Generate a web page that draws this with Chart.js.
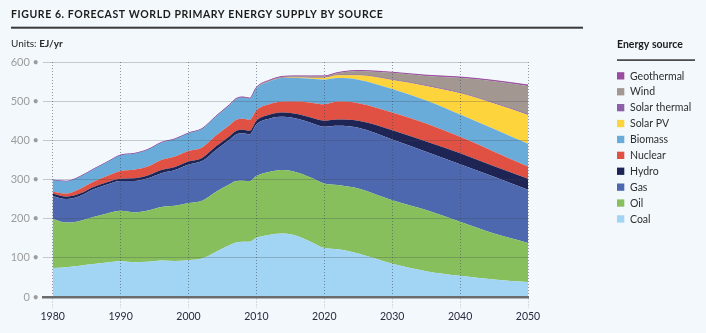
<!DOCTYPE html>
<html>
<head>
<meta charset="utf-8">
<script src="https://cdn.jsdelivr.net/npm/chart.js@4.4.1/dist/chart.umd.min.js"></script>
<style>
  html, body { margin: 0; padding: 0; background: #f2f8fc; }
  #wrap { position: relative; width: 706px; height: 333px; }
</style>
</head>
<body>
<div id="wrap"><canvas id="c" width="706" height="333"></canvas></div>
<script>
const years = [1980,1982,1984,1986,1988,1990,1992,1994,1996,1998,2000,2002,2004,2006,2007,2008,2009,2010,2012,2014,2016,2018,2020,2022,2025,2030,2035,2040,2045,2050];
const coal = [74,76,80,84,88,91,89,90,93,92,94,98,115,132,139,141,141,151,159,162,156,141,125,122,111,85,66,54,45,38];
const oil = [125,114,114,120,125,129,127,131,137,141,146,148,153,155,157,156,155,158,161,162,162,164,165,164,166,162,156,138,117,100];
const gas = [59,60,64,71,74,76,80,82,86,91,98,101,107,114,119,121,119,132,136,136,137,140,145,151,155,155,149,147,145,136];
const hydro = [6,6,6,6,6,6,7,7,8,8,8,8,9,9,9,9,9,9,10,11,12,13,15,16,18,24,26,28,27,28];
const nuclear = [5,8,12,13,16,20,22,23,26,27,27,27,28,28,28,28,28,27,27,28,32,38,42,46,45,45,46,42,37,31];
const biomass = [29,31,31,32,35,40,41,43,44,44,45,47,48,51,53,54,54,56,58,60,60,61,63,60,60,60,59,57,58,58];
const solarPV = [0,0,0,0,0,0,0,0,0,0,0,0,0,0,0,0,0,0.1,0.3,0.7,1.5,3,5,7,11,23,37,54,65,74];
const solarThermal = [0.1,0.1,0.1,0.1,0.1,0.1,0.1,0.1,0.1,0.1,0.2,0.2,0.3,0.3,0.3,0.4,0.4,0.5,0.6,0.7,0.8,0.9,1,1,1.1,1.3,1.5,1.6,1.7,1.8];
const wind = [0,0,0,0,0,0,0,0,0,0.1,0.1,0.2,0.3,0.5,0.6,0.8,0.9,1.1,1.5,2.2,2.3,2.5,2.5,5,10,17,24,38,55,72];
const geothermal = [0.4,0.4,0.4,0.4,0.4,0.4,0.5,0.5,0.5,0.5,0.5,0.6,0.6,0.6,0.6,0.6,0.6,0.6,0.7,0.8,0.9,1,1,1.1,1.2,1.5,1.8,2,2.2,2.4];
const xTicks = [1980,1990,2000,2010,2020,2030,2040,2050];
const yTicks = [0,100,200,300,400,500,600];

const seriesNames = ['Coal','Oil','Gas','Hydro','Nuclear','Biomass','Solar PV','Solar thermal','Wind','Geothermal'];
const seriesData = [coal,oil,gas,hydro,nuclear,biomass,solarPV,solarThermal,wind,geothermal];
const seriesColors = ['#a2d4f3','#88bf5d','#4d68ae','#1e2555','#e05144','#6aacd9','#fdd43c','#8c5fa8','#a39891','#9a4b9f'];

const datasets = seriesNames.map((name, i) => ({
  label: name,
  data: years.map((yr, j) => ({x: yr, y: seriesData[i][j]})),
  backgroundColor: seriesColors[i],
  borderColor: name === 'Geothermal' ? '#9a4b9f' : (name === 'Solar thermal' ? 'rgba(140,95,168,0.7)' : seriesColors[i]),
  borderWidth: name === 'Geothermal' ? 1 : (name === 'Solar thermal' ? 0.6 : 0),
  fill: i === 0 ? 'origin' : '-1',
  pointRadius: 0,
  cubicInterpolationMode: 'monotone',
  order: 0
}));

const FONT = 'Lato, "Open Sans", sans-serif';

const decor = {
  id: 'decor',
  beforeDraw(chart) {
    const ctx = chart.ctx;
    ctx.save();
    ctx.fillStyle = '#f2f8fc';
    ctx.fillRect(0, 0, chart.width, chart.height);
    ctx.restore();
  },
  afterDraw(chart) {
    const ctx = chart.ctx;
    ctx.save();
    ctx.fillStyle = '#1c1c1c';
    ctx.font = 'bold 10.5px ' + FONT;
    ctx.textBaseline = 'alphabetic';
    const title = 'FIGURE 6. FORECAST WORLD PRIMARY ENERGY SUPPLY BY SOURCE';
    ctx.letterSpacing = '0px';
    const w0 = ctx.measureText(title).width;
    const ls = (372 - w0) / (title.length - 1);
    ctx.letterSpacing = ls.toFixed(2) + 'px';
    ctx.fillText(title, 11, 17.5);
    ctx.letterSpacing = '0px';
    ctx.fillStyle = '#3a3a3a';
    ctx.fillRect(11, 26.7, 572, 2);
    ctx.font = '10px ' + FONT;
    ctx.fillStyle = '#2a2a2a';
    ctx.fillText('Units: ', 11, 46.5);
    const uw = ctx.measureText('Units: ').width;
    ctx.font = 'bold 10px ' + FONT;
    ctx.fillText('EJ/yr', 11 + uw, 46.5);
    ctx.font = 'bold 10.5px ' + FONT;
    ctx.fillStyle = '#1c1c1c';
    ctx.fillText('Energy source', 617, 47.5);
    ctx.fillStyle = '#3a3a3a';
    ctx.fillRect(617, 59.3, 78, 1.6);
    ctx.font = '10.5px ' + FONT;
    ctx.textBaseline = 'middle';
    for (let k = 0; k < seriesNames.length; k++) {
      const idx = seriesNames.length - 1 - k;
      const cy = 75.7 + k * 15.9;
      ctx.fillStyle = seriesColors[idx];
      ctx.fillRect(617, cy - 3.5, 7.3, 7.3);
      ctx.fillStyle = '#2e2e2e';
      ctx.fillText(seriesNames[idx], 630, cy + 0.5);
    }
    ctx.restore();
  }
};

new Chart(document.getElementById('c'), {
  type: 'line',
  data: { datasets },
  plugins: [decor],
  options: {
    responsive: false,
    animation: false,
    devicePixelRatio: 1,
    layout: { padding: { top: 62, right: 178, left: 0, bottom: 0 } },
    plugins: { legend: { display: false }, tooltip: { enabled: false } },
    elements: { line: { tension: 0 } },
    scales: {
      x: {
        type: 'linear',
        min: 1978.57,
        max: 2050,
        afterBuildTicks(scale) { scale.ticks = xTicks.map(v => ({value: v})); },
        afterFit(scale) { scale.height = 36; },
        grid: {
          z: 1,
          color: 'rgba(60,70,90,0.55)',
          lineWidth: 1,
          drawTicks: true,
          tickLength: 11,
          tickColor: 'rgba(120,125,135,0.5)',
          tickBorderDash: [1, 2]
        },
        border: { display: true, z: 2, color: '#6c6c6c', width: 2.5, dash: [1, 2] },
        ticks: {
          color: '#2a2a3c',
          font: { family: FONT, size: 10.5 },
          padding: 2,
          maxRotation: 0,
          autoSkip: false,
          callback: v => String(v)
        }
      },
      y: {
        stacked: true,
        min: 0,
        max: 600,
        afterBuildTicks(scale) { scale.ticks = yTicks.map(v => ({value: v})); },
        afterFit(scale) { scale.width = 43; },
        grid: {
          z: 1,
          color: 'rgba(60,65,75,0.26)',
          lineWidth: 1,
          drawTicks: false
        },
        border: { display: false },
        ticks: {
          color: '#9c9c9c',
          font: { family: FONT, size: 11 },
          padding: 4,
          callback: v => v + ' \u2022'
        }
      }
    }
  }
});
</script>
</body>
</html>
